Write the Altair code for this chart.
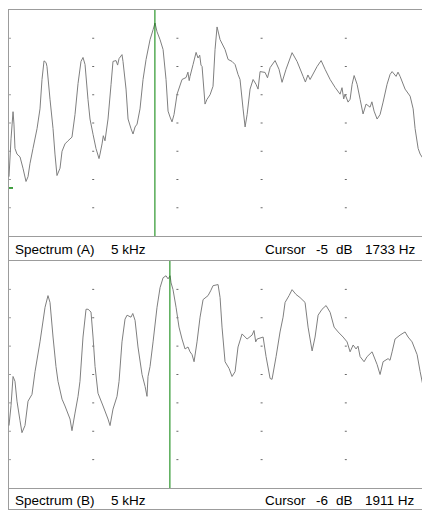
import altair as alt
import pandas as pd

# ---- data: (frequency in Hz, level in dB) ----
spectrum_a = [
    (0, -59), (24, -45.6), (48, -36), (59, -40.4), (71, -49), (95, -51), (131, -52), (166, -56),
    (202, -60.7), (226, -59), (249, -54.4), (285, -49), (333, -42), (368, -35), (392, -24.6),
    (416, -18), (440, -18.6), (451, -20), (487, -31.6), (523, -42), (546, -51), (570, -58.6),
    (606, -56), (630, -50), (665, -47.4), (701, -46.3), (748, -45), (784, -37), (820, -26),
    (855, -18.2), (879, -16.8), (903, -19.3), (938, -31.6), (962, -38.6), (998, -44), (1033, -49),
    (1069, -52.6), (1081, -51), (1105, -47.4), (1120, -44.5), (1140, -46.3), (1176, -38.6),
    (1212, -26.3), (1235, -18.2), (1271, -17.9), (1290, -19.5), (1307, -17.2), (1342, -15.8),
    (1354, -18.2), (1390, -28), (1414, -38.6), (1449, -42), (1473, -43.9), (1497, -41.4),
    (1521, -40.4), (1556, -35), (1592, -24.6), (1628, -17.5), (1675, -10.5), (1711, -7),
    (1734, -4.6), (1758, -7.7), (1794, -10.5), (1830, -14), (1865, -24.6), (1889, -35.8),
    (1913, -37.9), (1936, -39.6), (1960, -37), (1996, -29.8), (2055, -24.6), (2103, -23.9),
    (2125, -22), (2140, -25), (2150, -23.5), (2186, -19.3), (2222, -15), (2245, -17), (2265, -16),
    (2280, -19.5), (2293, -20), (2328, -33.3), (2352, -31.6), (2388, -30), (2423, -27),
    (2447, -14), (2471, -6), (2507, -10.5), (2566, -14), (2602, -17.5), (2649, -18.2),
    (2685, -19.3), (2720, -22.8), (2744, -24.6), (2780, -35), (2804, -41.4), (2828, -37),
    (2863, -28), (2899, -24.6), (2934, -26.3), (2958, -28), (2982, -21.8), (3041, -22.1),
    (3070, -24), (3101, -20.4), (3160, -17.9), (3207, -21), (3243, -25.6), (3290, -21),
    (3362, -15.1), (3421, -18.2), (3493, -23.5), (3520, -25.5), (3550, -23), (3576, -24.6),
    (3659, -20), (3707, -17.9), (3754, -21), (3814, -24.6), (3873, -27.4), (3932, -29.8),
    (3955, -27.5), (3975, -31.5), (3991, -29.8), (4027, -32.6), (4051, -31.6), (4075, -26.3),
    (4099, -23.2), (4134, -26.3), (4170, -31.6), (4205, -36.8), (4241, -33.3), (4288, -34.4),
    (4310, -32.5), (4336, -35.8), (4372, -38.6), (4407, -37), (4443, -32.6), (4490, -26.3),
    (4526, -22.8), (4550, -21.8), (4597, -23.5), (4620, -22), (4645, -23.5), (4704, -28),
    (4764, -30.5), (4800, -35), (4823, -42), (4859, -49), (4883, -51), (4918, -52.6),
    (4954, -54.4), (4977, -57.2), (5000, -61.4),
]

spectrum_b = [
    (0, -58), (24, -51), (48, -40.7), (71, -42.4), (95, -49.4), (131, -56.3), (154, -60.5),
    (190, -58), (226, -49.4), (273, -47), (309, -39), (368, -28.5), (428, -16.3), (463, -12.2),
    (487, -14.6), (523, -26.8), (558, -37.2), (582, -42.4), (630, -48.7), (665, -51.1),
    (725, -55.7), (748, -59.8), (784, -53.6), (820, -47.7), (843, -42.4), (879, -26.8),
    (915, -17), (939, -17), (974, -18), (998, -26.8), (1022, -37.2), (1057, -46.6),
    (1117, -51.1), (1176, -55.7), (1200, -58), (1235, -52.2), (1283, -47.7), (1307, -42.4),
    (1342, -28.5), (1378, -20.5), (1402, -19.1), (1449, -19.8), (1470, -18.5), (1497, -20.9),
    (1532, -30.3), (1580, -40), (1616, -44.2), (1639, -47.7), (1651, -40.7), (1675, -37.2),
    (1711, -28.5), (1758, -16.3), (1794, -9.4), (1830, -5.9), (1865, -5.2), (1889, -6.3),
    (1913, -5.2), (1925, -7.7), (1948, -10.1), (1984, -16.3), (2019, -23.3), (2055, -27.5),
    (2091, -31), (2126, -30.3), (2150, -32), (2174, -33), (2198, -35.5), (2233, -28.5),
    (2269, -19.8), (2305, -13.6), (2364, -12.2), (2395, -10.5), (2423, -8.7), (2483, -8.3),
    (2507, -12.9), (2530, -23.3), (2566, -35.5), (2614, -37.9), (2649, -40.7), (2685, -39),
    (2720, -30.3), (2768, -25.7), (2828, -27.5), (2887, -26.1), (2910, -24.5), (2930, -28.5),
    (2947, -27.5), (3018, -26.8), (3053, -33.7), (3101, -41.4), (3124, -41.7), (3172, -33.7),
    (3219, -25), (3255, -19.8), (3279, -14.6), (3326, -12.2), (3362, -10.1), (3409, -11.8),
    (3457, -12.9), (3516, -14.6), (3552, -23.3), (3600, -31.7), (3635, -26.8), (3671, -19.1),
    (3718, -17), (3766, -15.7), (3814, -18.1), (3861, -23.3), (3909, -25), (3968, -26.8),
    (4015, -28.5), (4051, -32), (4087, -29.6), (4122, -31), (4145, -30), (4170, -33.7),
    (4217, -35.5), (4253, -33.7), (4312, -32), (4372, -36.5), (4407, -40), (4443, -35.5),
    (4502, -34.4), (4525, -35), (4550, -32), (4585, -27.5), (4645, -26.1), (4704, -25),
    (4740, -26.8), (4787, -28.5), (4847, -33), (4883, -39), (4918, -44.2), (4977, -46.6),
    (5000, -47.7),
]

grid_freqs = [1000, 2000, 3000, 4000]
grid_levels = [-10, -20, -30, -40, -50, -60, -70]
cursor_a_hz = 1733
cursor_b_hz = 1911
marker_a_db = -63
status_a = ["Spectrum (A)", "5 kHz", "Cursor", "-5", "dB", "1733 Hz"]
status_b = ["Spectrum (B)", "5 kHz", "Cursor", "-6", "dB", "1911 Hz"]

# ---- styling / layout (svg pixels; page = svg + 8) ----
SVG_W = 414
SVG_H = 502
X0, X1 = 1, 422            # 0 Hz .. 5000 Hz (right end falls past the page edge)
A_TOP, A_BOT = 2, 228
B_TOP, B_BOT = 253, 480
LAST = 501.5
FRAME = "#9c9c9c"
CURVE = "#7f7f7f"
GRID = "#6a6a6a"
GREEN = "#008000"
FONT = "Liberation Sans"
FS = 13.5
TEXT_X = [7, 103, 257, 308, 328, 357]

one = pd.DataFrame({"k": [0]})
xs = alt.Scale(domain=[0, 5000], range=[X0, X1], nice=False, zero=False)
xe = alt.X("freq:Q", scale=xs, axis=None)


def hline(y):
    return alt.Chart(one).mark_rule(color=FRAME, strokeWidth=1).encode(
        x=alt.value(0), x2=alt.value(X1), y=alt.value(y))


def panel_layers(spectrum, cursor_hz, top, bot, bar_end, labels, text_base, marker_db=None):
    ys = alt.Scale(domain=[-80, 0], range=[bot, top], nice=False, zero=False)
    ye = alt.Y("level:Q", scale=ys, axis=None)
    curve_df = pd.DataFrame(spectrum, columns=["freq", "level"])
    curve_df["idx"] = range(len(curve_df))
    grid_df = pd.DataFrame([(f, l) for f in grid_freqs for l in grid_levels],
                           columns=["freq", "level"])
    tick_df = pd.DataFrame({"freq": [0] * len(grid_levels), "level": grid_levels})

    L = []
    L.append(alt.Chart(grid_df).mark_tick(orient="horizontal", size=2, thickness=1,
                                          color=GRID, opacity=1).encode(x=xe, y=ye))
    L.append(alt.Chart(tick_df).mark_tick(orient="horizontal", size=4, thickness=1,
                                          color=FRAME, opacity=1).encode(x=xe, y=ye))
    if marker_db is not None:
        L.append(alt.Chart(pd.DataFrame({"freq": [0], "level": [marker_db]}))
                 .mark_tick(orient="horizontal", size=7, thickness=1.5, xOffset=0.5,
                            color=GREEN, opacity=1).encode(x=xe, y=ye))
    L.append(hline(top - 0.5))
    L.append(hline(bot + 0.5))
    L.append(hline(bar_end))
    L.append(alt.Chart(one).mark_rule(color=FRAME, strokeWidth=1).encode(
        x=alt.value(0.5), y=alt.value(top - 0.5), y2=alt.value(bar_end)))
    L.append(alt.Chart(curve_df).mark_line(color=CURVE, strokeWidth=1)
             .encode(x=xe, y=ye, order=alt.Order("idx:Q")))
    L.append(alt.Chart(pd.DataFrame({"freq": [cursor_hz]})).mark_rule(color=GREEN, strokeWidth=1)
             .encode(x=xe, y=alt.value(top), y2=alt.value(bot)))
    for lab, tx in zip(labels, TEXT_X):
        L.append(alt.Chart(one).mark_text(align="left", baseline="alphabetic", font=FONT,
                                          fontSize=FS, color="black")
                 .encode(x=alt.value(tx), y=alt.value(text_base), text=alt.value(lab)))
    return L


layers = (panel_layers(spectrum_a, cursor_a_hz, A_TOP, A_BOT, B_TOP - 0.5, status_a,
                       A_BOT + 18, marker_a_db)
          + panel_layers(spectrum_b, cursor_b_hz, B_TOP, B_BOT, LAST, status_b, B_BOT + 17))

chart = alt.layer(*layers).resolve_scale(y="independent").properties(
    width=SVG_W, height=SVG_H,
    autosize=alt.AutoSizeParams(type="none"),
    padding={"left": 0, "top": 0, "right": 0, "bottom": 0},
    background="white",
).configure_view(stroke=None)

chart.save("out.html", embed_options={"renderer": "svg", "actions": False})
